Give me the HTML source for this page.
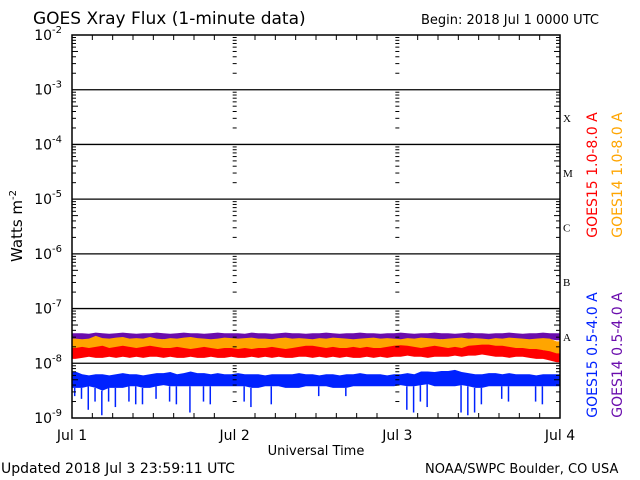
<!DOCTYPE html>
<html><head><meta charset="utf-8"><style>
body{margin:0;background:#fff;width:640px;height:480px;overflow:hidden}
svg{display:block;font-family:"DejaVu Sans","Liberation Sans",sans-serif}
</style></head><body>
<svg id="c" width="640" height="480"></svg>
<script>
const days=["Jul 1","Jul 2","Jul 3","Jul 4"];
const decadeExps=[-2,-3,-4,-5,-6,-7,-8,-9];
const classLetters=["X","M","C","B","A"];
// hourly high/low envelopes of log10 flux (72 hours)
const g14LongHi=[-7.45,-7.45,-7.46,-7.44,-7.45,-7.46,-7.45,-7.44,-7.45,-7.46,-7.45,-7.45,-7.44,-7.45,-7.46,-7.45,-7.44,-7.45,-7.45,-7.46,-7.45,-7.44,-7.45,-7.45,-7.45,-7.46,-7.44,-7.45,-7.45,-7.46,-7.45,-7.44,-7.45,-7.45,-7.46,-7.45,-7.45,-7.44,-7.45,-7.46,-7.45,-7.45,-7.44,-7.45,-7.45,-7.46,-7.45,-7.45,-7.44,-7.45,-7.46,-7.45,-7.45,-7.44,-7.45,-7.45,-7.46,-7.45,-7.44,-7.45,-7.45,-7.46,-7.45,-7.45,-7.44,-7.45,-7.46,-7.45,-7.45,-7.44,-7.45,-7.45];
const g14LongLo=[-7.58,-7.58,-7.56,-7.58,-7.58,-7.56,-7.58,-7.58,-7.58,-7.56,-7.58,-7.58,-7.58,-7.56,-7.58,-7.58,-7.58,-7.56,-7.58,-7.58,-7.58,-7.56,-7.58,-7.58,-7.58,-7.58,-7.56,-7.58,-7.58,-7.58,-7.56,-7.58,-7.58,-7.58,-7.56,-7.58,-7.58,-7.58,-7.56,-7.58,-7.58,-7.58,-7.56,-7.58,-7.58,-7.58,-7.56,-7.58,-7.58,-7.58,-7.56,-7.58,-7.58,-7.58,-7.56,-7.58,-7.58,-7.58,-7.56,-7.58,-7.58,-7.58,-7.56,-7.58,-7.58,-7.58,-7.56,-7.58,-7.58,-7.58,-7.56,-7.58];
const g15LongHi=[-7.55,-7.56,-7.55,-7.5,-7.54,-7.55,-7.53,-7.52,-7.55,-7.54,-7.55,-7.52,-7.55,-7.56,-7.54,-7.55,-7.53,-7.52,-7.54,-7.55,-7.56,-7.55,-7.53,-7.54,-7.55,-7.54,-7.53,-7.55,-7.55,-7.56,-7.54,-7.53,-7.55,-7.54,-7.55,-7.56,-7.54,-7.55,-7.53,-7.54,-7.55,-7.56,-7.55,-7.54,-7.53,-7.55,-7.54,-7.55,-7.56,-7.54,-7.55,-7.53,-7.54,-7.55,-7.56,-7.55,-7.54,-7.53,-7.55,-7.54,-7.55,-7.56,-7.54,-7.55,-7.53,-7.54,-7.55,-7.56,-7.55,-7.54,-7.55,-7.6];
const g15LongLo=[-7.76,-7.74,-7.76,-7.76,-7.78,-7.76,-7.74,-7.76,-7.76,-7.74,-7.76,-7.76,-7.76,-7.78,-7.76,-7.76,-7.74,-7.76,-7.76,-7.76,-7.74,-7.76,-7.76,-7.76,-7.78,-7.76,-7.76,-7.74,-7.76,-7.76,-7.76,-7.74,-7.76,-7.76,-7.76,-7.78,-7.76,-7.76,-7.74,-7.76,-7.76,-7.76,-7.74,-7.76,-7.76,-7.76,-7.78,-7.76,-7.76,-7.74,-7.76,-7.76,-7.76,-7.74,-7.76,-7.76,-7.76,-7.78,-7.76,-7.76,-7.74,-7.76,-7.76,-7.76,-7.74,-7.76,-7.76,-7.76,-7.78,-7.76,-7.8,-7.85];
const g15RedHi=[-7.72,-7.7,-7.72,-7.7,-7.68,-7.72,-7.7,-7.68,-7.7,-7.72,-7.7,-7.68,-7.7,-7.72,-7.72,-7.7,-7.72,-7.74,-7.72,-7.7,-7.72,-7.74,-7.72,-7.72,-7.74,-7.72,-7.74,-7.72,-7.72,-7.7,-7.72,-7.74,-7.72,-7.7,-7.68,-7.68,-7.7,-7.72,-7.7,-7.72,-7.72,-7.7,-7.72,-7.7,-7.72,-7.72,-7.7,-7.68,-7.67,-7.68,-7.7,-7.72,-7.7,-7.68,-7.7,-7.72,-7.7,-7.72,-7.68,-7.67,-7.66,-7.66,-7.68,-7.68,-7.7,-7.72,-7.72,-7.74,-7.74,-7.76,-7.78,-7.82];
const g15RedLo=[-7.92,-7.9,-7.88,-7.9,-7.9,-7.88,-7.9,-7.88,-7.9,-7.88,-7.9,-7.88,-7.88,-7.9,-7.88,-7.9,-7.9,-7.88,-7.9,-7.9,-7.88,-7.9,-7.9,-7.88,-7.9,-7.9,-7.88,-7.9,-7.88,-7.9,-7.88,-7.9,-7.9,-7.88,-7.88,-7.9,-7.88,-7.9,-7.88,-7.9,-7.88,-7.9,-7.9,-7.88,-7.9,-7.88,-7.9,-7.88,-7.88,-7.86,-7.88,-7.88,-7.9,-7.88,-7.88,-7.88,-7.86,-7.88,-7.86,-7.86,-7.84,-7.86,-7.88,-7.88,-7.9,-7.88,-7.88,-7.9,-7.92,-7.92,-7.95,-7.98];
const g15ShortHi=[-8.15,-8.2,-8.22,-8.2,-8.2,-8.22,-8.2,-8.18,-8.2,-8.2,-8.22,-8.2,-8.18,-8.18,-8.16,-8.2,-8.18,-8.15,-8.18,-8.18,-8.2,-8.18,-8.2,-8.2,-8.18,-8.2,-8.2,-8.2,-8.22,-8.2,-8.2,-8.2,-8.2,-8.18,-8.2,-8.2,-8.22,-8.2,-8.2,-8.22,-8.2,-8.2,-8.18,-8.2,-8.2,-8.2,-8.22,-8.2,-8.2,-8.18,-8.2,-8.15,-8.15,-8.16,-8.14,-8.14,-8.12,-8.16,-8.18,-8.2,-8.2,-8.18,-8.18,-8.2,-8.18,-8.2,-8.2,-8.2,-8.22,-8.2,-8.2,-8.2];
const g15ShortLo=[-8.45,-8.45,-8.42,-8.45,-8.5,-8.45,-8.45,-8.45,-8.42,-8.42,-8.45,-8.45,-8.42,-8.4,-8.42,-8.42,-8.42,-8.42,-8.42,-8.42,-8.42,-8.42,-8.42,-8.42,-8.42,-8.42,-8.45,-8.45,-8.42,-8.42,-8.42,-8.45,-8.45,-8.45,-8.42,-8.42,-8.42,-8.42,-8.45,-8.45,-8.45,-8.42,-8.42,-8.42,-8.42,-8.42,-8.42,-8.42,-8.4,-8.42,-8.42,-8.4,-8.38,-8.42,-8.42,-8.42,-8.42,-8.4,-8.42,-8.45,-8.45,-8.42,-8.42,-8.42,-8.42,-8.42,-8.42,-8.42,-8.42,-8.42,-8.42,-8.42];
const g15ShortDip=[-8.6,-8.65,-8.85,-8.7,-8.95,-8.7,-8.8,-8.5,-8.7,-8.75,-8.75,-8.5,-8.65,-8.5,-8.7,-8.75,-8.5,-8.9,-8.5,-8.7,-8.75,-8.5,-8.5,-8.5,-8.5,-8.7,-8.8,-8.5,-8.5,-8.75,-8.5,-8.5,-8.5,-8.5,-8.5,-8.5,-8.6,-8.5,-8.5,-8.5,-8.6,-8.5,-8.5,-8.5,-8.5,-8.5,-8.5,-8.5,-8.5,-8.85,-8.9,-8.7,-8.8,-8.5,-8.5,-8.5,-8.5,-8.9,-8.95,-8.9,-8.75,-8.5,-8.5,-8.65,-8.7,-8.5,-8.5,-8.5,-8.7,-8.75,-8.5,-8.5];

const NS="http://www.w3.org/2000/svg";
const svg=document.getElementById("c");
const X0=72,X1=560,Y0=35,Y1=418;
const xh=h=>X0+(X1-X0)*h/72;
const yl=v=>Y0+(Y1-Y0)*(-2-v)/7;
function mk(t,a,p){const e=document.createElementNS(NS,t);for(const k in a)e.setAttribute(k,a[k]);(p||svg).appendChild(e);return e;}
function txt(x,y,s,o){const e=mk("text",Object.assign({x:x,y:y,"font-size":14,fill:"#000"},o||{}));e.textContent=s;return e;}

let t=txt(33,24,"GOES Xray Flux (1-minute data)",{"font-size":17});


t=txt(421,24,"Begin:  2018 Jul 1 0000 UTC",{"font-size":13});


t=txt(1,473,"Updated 2018 Jul  3 23:59:11 UTC",{"font-size":14});


t=txt(425,473,"NOAA/SWPC Boulder, CO USA",{"font-size":13});


t=txt(316,455,"Universal Time",{"font-size":13,"text-anchor":"middle"});


t=txt(22,226,"",{"font-size":15,"text-anchor":"middle",transform:"rotate(-90 22 226)"});
t.innerHTML='Watts m<tspan dy="-6" font-size="10">-2</tspan>';



function band(hi,lo,col,name){
  let d="M"+X0+","+yl(hi[0]);
  hi.forEach((v,i)=>{d+=" L"+xh(i+0.5)+","+yl(v);});
  d+=" L"+X1+","+yl(hi[hi.length-1]);
  d+=" L"+X1+","+yl(lo[lo.length-1]);
  for(let i=lo.length-1;i>=0;i--)d+=" L"+xh(i+0.5)+","+yl(lo[i]);
  d+=" L"+X0+","+yl(lo[0])+"Z";
  const p=mk("path",{d:d,fill:col,stroke:"none"});
  
  
}
band(g14LongHi,g14LongLo,"#6a0dad","goes14-short");
band(g15LongHi,g15LongLo,"#ffa500","goes14-long");
band(g15RedHi,g15RedLo,"#ff0000","goes15-long");
band(g15ShortHi,g15ShortLo,"#0022ff","goes15-short");
g15ShortDip.forEach((v,i)=>{if(v>-8.55)return;const x=xh(i+0.4);const l=mk("line",{x1:x,x2:x,y1:yl(g15ShortLo[i]),y2:yl(v),stroke:"#0022ff","stroke-width":1.5});

});

const fr=mk("rect",{x:X0,y:Y0,width:X1-X0,height:Y1-Y0,fill:"none",stroke:"#000","stroke-width":1.5});


decadeExps.forEach((e,i)=>{
  const y=yl(e);
  if(i>0&&i<7){const l=mk("line",{x1:X0,x2:X1,y1:y,y2:y,stroke:"#000","stroke-width":1.3});
  
  }
  const tt=txt(62,y+5,"",{"font-size":14,"text-anchor":"end"});
  tt.innerHTML='10<tspan dy="-7" font-size="10">'+e+'</tspan>';
  
  
  if(e>-9){for(let m=2;m<=9;m++){const ym=yl(e-1+Math.log10(m));
    [X0,xh(24),xh(48),X1].forEach((x,j)=>{const len=m==5?6:4;
      if(j==0)mk("line",{x1:x,x2:x+len,y1:ym,y2:ym,stroke:"#000"});
      else if(j==3)mk("line",{x1:x-len,x2:x,y1:ym,y2:ym,stroke:"#000"});
      else mk("line",{x1:x-2,x2:x+2,y1:ym,y2:ym,stroke:"#000"});});}}
});
classLetters.forEach((c,i)=>{const tt=txt(563,yl(-3.5-i)+5,c,{"font-size":11,"font-family":"Liberation Serif, serif"});

});
for(let h=0;h<=72;h+=3){const x=xh(h);const len=h%24==0?0:5;
 if(len){mk("line",{x1:x,x2:x,y1:Y0,y2:Y0+len,stroke:"#000"});mk("line",{x1:x,x2:x,y1:Y1-len,y2:Y1,stroke:"#000"});}}
days.forEach((d,i)=>{const tt=txt(xh(i*24),440,d,{"font-size":14,"text-anchor":"middle"});

});
const leg=[["GOES15 1.0-8.0 A","#ff0000",597,175],["GOES14 1.0-8.0 A","#ffa500",622,175],["GOES15 0.5-4.0 A","#0022ff",597,355],["GOES14 0.5-4.0 A","#6a0dad",622,355]];
leg.forEach(l=>{const tt=txt(l[2],l[3],l[0],{"font-size":14,fill:l[1],"text-anchor":"middle",transform:"rotate(-90 "+l[2]+" "+l[3]+")"});

});
</script>
</body></html>
